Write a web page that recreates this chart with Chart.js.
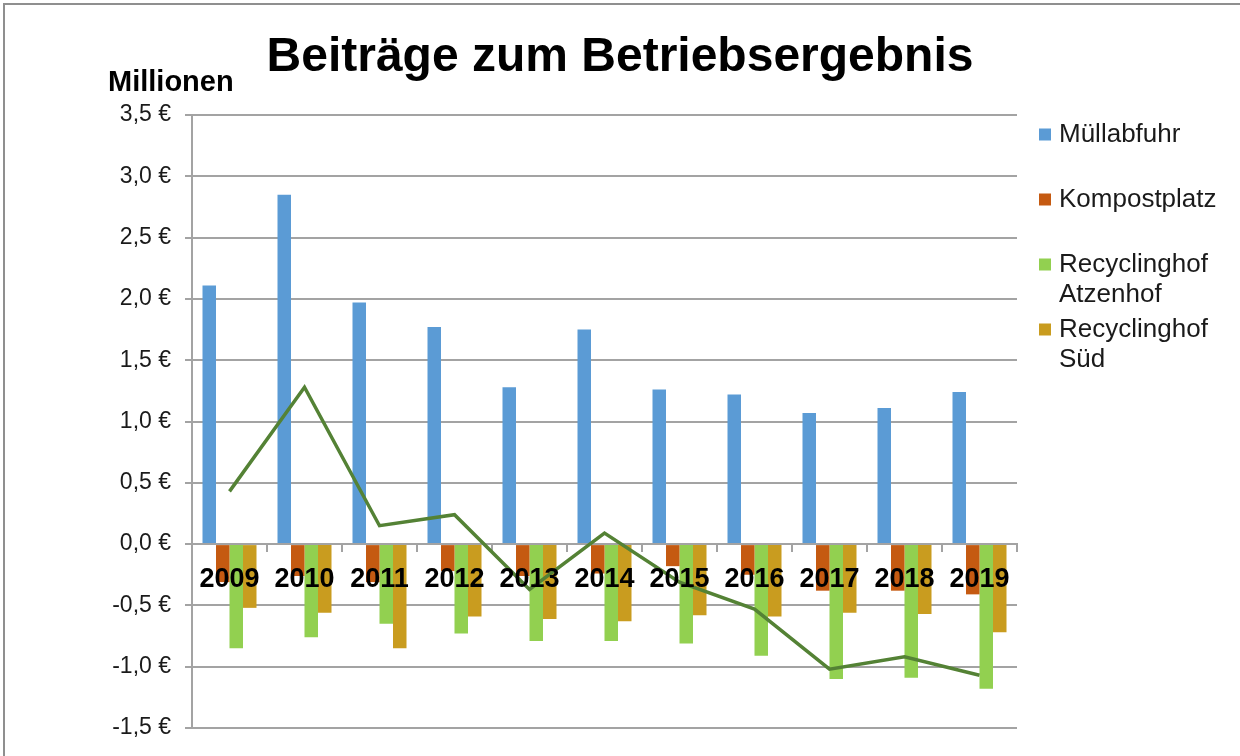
<!DOCTYPE html>
<html lang="de">
<head>
<meta charset="utf-8">
<title>Beiträge zum Betriebsergebnis</title>
<script src="https://cdn.jsdelivr.net/npm/chart.js@4.4.1/dist/chart.umd.min.js"></script>
<style>
  html, body { margin: 0; padding: 0; background: #fff; overflow: hidden; }
  #wrap { position: relative; width: 1240px; height: 756px; }
</style>
</head>
<body>
<div id="wrap"><canvas id="chart"></canvas></div>
<script>
// Werte in Millionen Euro
const years = ['2009', '2010', '2011', '2012', '2013', '2014', '2015', '2016', '2017', '2018', '2019'];
const muellabfuhr = [2.11, 2.85, 1.97, 1.77, 1.28, 1.75, 1.26, 1.22, 1.07, 1.11, 1.24];
const kompostplatz = [-0.31, -0.26, -0.31, -0.22, -0.26, -0.24, -0.18, -0.25, -0.38, -0.38, -0.41];
const recyclingAtzenhof = [-0.85, -0.76, -0.65, -0.73, -0.79, -0.79, -0.81, -0.91, -1.10, -1.09, -1.18];
const recyclingSued = [-0.52, -0.56, -0.85, -0.59, -0.61, -0.63, -0.58, -0.59, -0.56, -0.57, -0.72];
const summe = [0.43, 1.28, 0.15, 0.24, -0.37, 0.09, -0.31, -0.53, -1.02, -0.92, -1.07];

const seriesLabels = ['Müllabfuhr', 'Kompostplatz', 'Recyclinghof Atzenhof', 'Recyclinghof Süd'];
const seriesColors = ['#5B9BD5', '#C55A11', '#92D050', '#C99C1F'];
const summeLabel = 'Summe';
const summeColor = '#548235';

const yMin = -1.5, yMax = 3.5, yStep = 0.5;

const FONT = "'Liberation Sans', Arial, sans-serif";
const gridColor = '#a3a3a3';

// Rahmen, Achsentitel und Legende wie im Excel-Diagramm
const extras = {
    id: 'extras',
    afterDraw(chart) {
        const ctx = chart.ctx;
        ctx.save();
        ctx.strokeStyle = '#8f8f8f';
        ctx.lineWidth = 2;
        ctx.beginPath();
        ctx.moveTo(4, 756);
        ctx.lineTo(4, 4);
        ctx.lineTo(1240, 4);
        ctx.stroke();

        ctx.fillStyle = '#000';
        ctx.font = 'bold 29px ' + FONT;
        ctx.textBaseline = 'alphabetic';
        ctx.fillText('Millionen', 108, 91);

        ctx.font = '26px ' + FONT;
        ctx.textBaseline = 'middle';
        let n = 0;
        chart.data.datasets.forEach(ds => {
            if (ds.type === 'line') return;
            const mid = 134.5 + n * 65;
            n++;
            ctx.fillStyle = ds.backgroundColor;
            ctx.fillRect(1039, mid - 6, 12, 12);
            // einfacher Zeilenumbruch
            const lines = [];
            let cur = '';
            for (const w of ds.label.split(' ')) {
                const t = cur ? cur + ' ' + w : w;
                if (cur && ctx.measureText(t).width > 170) { lines.push(cur); cur = w; }
                else cur = t;
            }
            lines.push(cur);
            ctx.fillStyle = '#1a1a1a';
            lines.forEach((l, k) => ctx.fillText(l, 1059, mid + k * 30));
        });
        ctx.restore();
    }
};

const barData = [muellabfuhr, kompostplatz, recyclingAtzenhof, recyclingSued];

new Chart(document.getElementById('chart'), {
    type: 'bar',
    data: {
        labels: years,
        datasets: [
            {
                type: 'line',
                label: summeLabel,
                data: summe,
                borderColor: summeColor,
                backgroundColor: summeColor,
                borderWidth: 3.5,
                pointRadius: 0,
                tension: 0,
                order: 0
            },
            ...barData.map((d, i) => ({
                label: seriesLabels[i],
                data: d,
                backgroundColor: seriesColors[i],
                borderWidth: 0,
                categoryPercentage: 0.72,
                barPercentage: 1.0,
                order: 1
            }))
        ]
    },
    options: {
        responsive: true,
        maintainAspectRatio: false,
        animation: false,
        layout: { padding: { left: 0, right: 0, top: 0, bottom: 28 } },
        plugins: {
            legend: { display: false },
            tooltip: { enabled: false },
            title: {
                display: true,
                text: 'Beiträge zum Betriebsergebnis',
                color: '#000',
                font: { family: FONT, size: 48, weight: 'bold' },
                padding: { top: 29, bottom: 28.4 }
            }
        },
        scales: {
            x: {
                position: { y: 0 },
                offset: true,
                grid: {
                    offset: true,
                    drawOnChartArea: false,
                    drawTicks: true,
                    tickLength: 7,
                    color: gridColor,
                    lineWidth: 2
                },
                border: { color: gridColor, width: 2 },
                ticks: {
                    z: 1,
                    color: '#000',
                    padding: 12,
                    maxRotation: 0,
                    font: { family: FONT, size: 27, weight: 'bold' }
                }
            },
            y: {
                min: yMin,
                max: yMax,
                afterFit: s => { s.width = 192; },
                grid: { color: gridColor, lineWidth: 2, tickLength: 7 },
                border: { color: gridColor, width: 2 },
                ticks: {
                    stepSize: yStep,
                    padding: 14,
                    color: '#1a1a1a',
                    font: { family: FONT, size: 23 },
                    callback: v => v.toFixed(1).replace('.', ',') + ' €'
                }
            },
            // leere Achse rechts: Platz für die Legende
            legendSpace: {
                position: 'right',
                grid: { display: false },
                border: { display: false },
                ticks: { display: false },
                afterFit: s => { s.width = 223; }
            }
        }
    },
    plugins: [extras]
});
</script>
</body>
</html>
